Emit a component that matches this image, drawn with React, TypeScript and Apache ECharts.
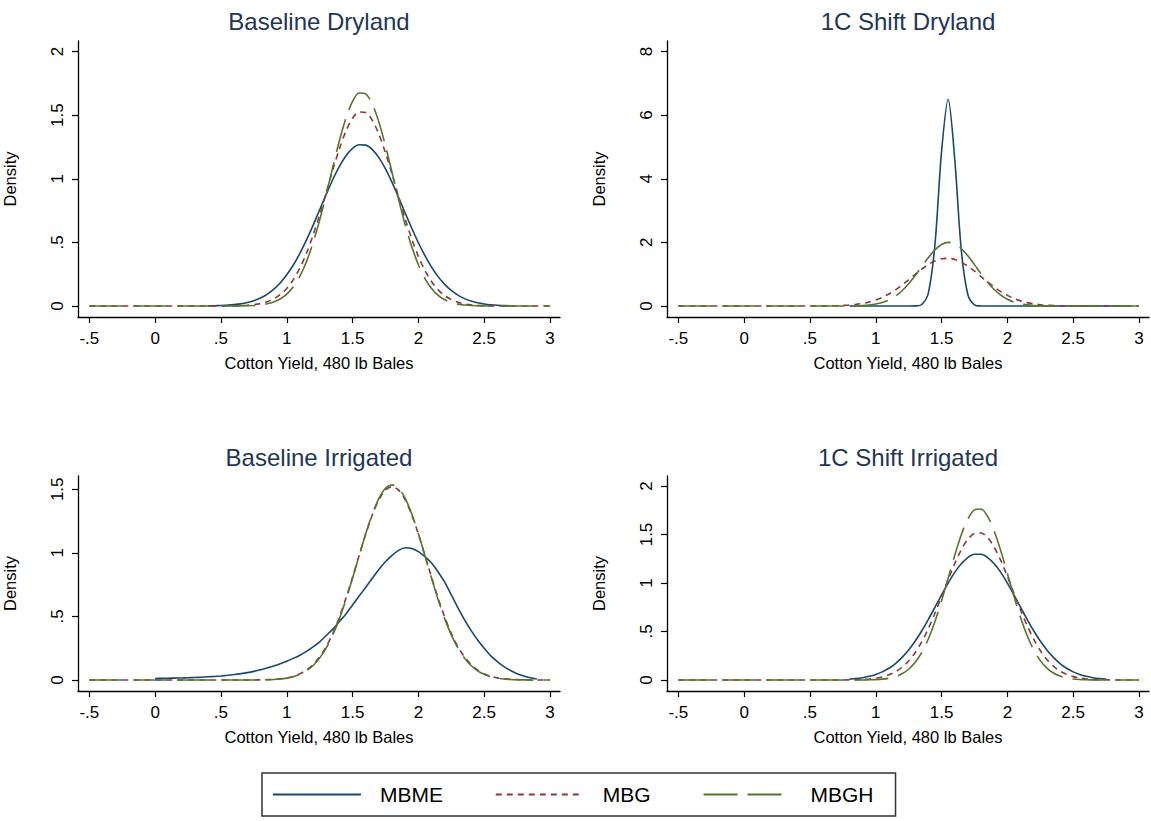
import React, { useEffect, useRef } from "react";
import * as echarts from "echarts";

const N = null;

// shared evaluation grid (Cotton Yield, 480 lb bales)
const X = [
  -0.5, -0.45, -0.4, -0.35, -0.3, -0.25, -0.2, -0.15, -0.1, -0.05,
  0, 0.05, 0.1, 0.15, 0.2, 0.25, 0.3, 0.35, 0.4, 0.45,
  0.5, 0.55, 0.6, 0.65, 0.7, 0.75, 0.8, 0.85, 0.9, 0.95,
  1, 1.05, 1.1, 1.15, 1.2, 1.25, 1.3, 1.35, 1.4, 1.45,
  1.5, 1.55, 1.6, 1.65, 1.7, 1.75, 1.8, 1.85, 1.9, 1.95,
  2, 2.05, 2.1, 2.15, 2.2, 2.25, 2.3, 2.35, 2.4, 2.45,
  2.5, 2.55, 2.6, 2.65, 2.7, 2.75, 2.8, 2.85, 2.9, 2.95,
  3,
];

// ---- Baseline Dryland ----
const BD_MBME = [
  N, N, N, N, N, N, N, N, N, N,
  N, N, N, N, N, N, N, N, 0.001, 0.002,
  0.004, 0.007, 0.011, 0.017, 0.027, 0.042, 0.063, 0.092, 0.131, 0.181,
  0.245, 0.322, 0.414, 0.519, 0.634, 0.756, 0.877, 0.994, 1.097, 1.181,
  1.239, 1.267, 1.264, 1.229, 1.166, 1.078, 0.971, 0.853, 0.731, 0.611,
  0.497, 0.395, 0.306, 0.231, 0.17, 0.122, 0.085, 0.058, 0.039, 0.025,
  0.016, 0.01, 0.006, 0.003, 0.002, N, N, N, N, N,
  N,
];
const BD_MBG = [
  0, 0, 0, 0, 0, 0, 0, 0, 0, 0,
  0, 0, 0, 0, 0, 0, 0, 0, 0, 0,
  0.0003, 0.0007, 0.0015, 0.003, 0.006, 0.011, 0.019, 0.033, 0.055, 0.089,
  0.138, 0.207, 0.299, 0.415, 0.556, 0.717, 0.892, 1.07, 1.236, 1.375,
  1.476, 1.525, 1.52, 1.459, 1.35, 1.204, 1.035, 0.857, 0.684, 0.526,
  0.39, 0.278, 0.192, 0.127, 0.081, 0.05, 0.03, 0.017, 0.009, 0.005,
  0.0025, 0.001, 0.0005, 0, 0, 0, 0, 0, 0, 0,
  0,
];
const BD_MBGH = [
  0, 0, 0, 0, 0, 0, 0, 0, 0, 0,
  0, 0, 0, 0, 0, 0, 0, 0, 0, 0,
  0, 0, 0.0004, 0.001, 0.002, 0.004, 0.009, 0.017, 0.031, 0.055,
  0.093, 0.151, 0.235, 0.35, 0.497, 0.675, 0.878, 1.092, 1.299, 1.478,
  1.608, 1.674, 1.667, 1.587, 1.445, 1.259, 1.049, 0.836, 0.637, 0.465,
  0.324, 0.216, 0.138, 0.084, 0.049, 0.027, 0.015, 0.0075, 0.0036, 0.0017,
  0.0007, 0, 0, 0, 0, 0, 0, 0, 0, 0,
  0,
];

// ---- 1C Shift Dryland ----
const SD_MBME = [
  N, N, N, N, N, N, N, N, N, N,
  N, N, N, N, N, N, N, N, N, N,
  N, N, N, N, N, N, 0, 0, 0, 0,
  0, 0, 0, 0, 0, 0, 0.003, 0.047, 0.412, 1.94,
  4.86, 6.5, 4.62, 1.75, 0.354, 0.038, 0.002, 0, 0, 0,
  0, 0, 0, 0, 0, 0, 0, 0, 0, 0,
  0, 0, 0, 0, 0, 0, 0, 0, 0, N,
  N,
];
const SD_MBG = [
  0, 0, 0, 0, 0, 0, 0, 0, 0, 0,
  0, 0, 0, 0, 0, 0, 0, 0, 0, 0,
  0, 0, 0.003, 0.005, 0.01, 0.018, 0.03, 0.051, 0.081, 0.126,
  0.188, 0.271, 0.378, 0.508, 0.659, 0.824, 0.995, 1.16, 1.305, 1.416,
  1.483, 1.499, 1.462, 1.376, 1.25, 1.096, 0.927, 0.757, 0.596, 0.453,
  0.333, 0.236, 0.161, 0.106, 0.068, 0.041, 0.025, 0.014, 0.008, 0.004,
  0.002, 0.001, 0, 0, 0, 0, 0, 0, 0, 0,
  0,
];
const SD_MBGH = [
  0, 0, 0, 0, 0, 0, 0, 0, 0, 0,
  0, 0, 0, 0, 0, 0, 0, 0, 0, 0,
  0, 0, 0, 0, 0.001, 0.002, 0.004, 0.007, 0.015, 0.032,
  0.061, 0.111, 0.191, 0.311, 0.479, 0.697, 0.957, 1.242, 1.523, 1.765,
  1.933, 2.0, 1.955, 1.805, 1.576, 1.3, 1.013, 0.746, 0.519, 0.341,
  0.212, 0.124, 0.069, 0.036, 0.018, 0.008, 0.004, 0.002, 0, 0,
  0, 0, 0, 0, 0, 0, 0, 0, 0, 0,
  0,
];

// ---- Baseline Irrigated ----
const BI_MBME = [
  N, N, N, N, N, N, N, N, N, N,
  0.012, 0.013, 0.014, 0.015, 0.016, 0.018, 0.02, 0.022, 0.025, 0.028,
  0.032, 0.037, 0.043, 0.05, 0.058, 0.068, 0.08, 0.094, 0.11, 0.128,
  0.148, 0.17, 0.195, 0.225, 0.26, 0.3, 0.35, 0.4, 0.46, 0.52,
  0.59, 0.66, 0.73, 0.8, 0.87, 0.93, 0.98, 1.02, 1.04, 1.035,
  1.01, 0.97, 0.92, 0.85, 0.77, 0.67, 0.57, 0.475, 0.39, 0.315,
  0.25, 0.19, 0.145, 0.105, 0.075, 0.05, 0.032, 0.018, 0.008, N,
  N,
];
const BI_MBG = [
  0, 0, 0, 0, 0, 0, 0, 0, 0, 0,
  0, 0, 0, 0, 0, 0, 0, 0, 0, 0,
  0, 0, 0, 0, 0, 0, 0.0014, 0.0027, 0.005, 0.01,
  0.017, 0.029, 0.049, 0.079, 0.122, 0.182, 0.263, 0.367, 0.495, 0.644,
  0.809, 0.98, 1.148, 1.298, 1.417, 1.494, 1.52, 1.494, 1.417, 1.298,
  1.148, 0.98, 0.809, 0.644, 0.495, 0.367, 0.263, 0.182, 0.122, 0.079,
  0.049, 0.029, 0.017, 0.01, 0.005, 0.003, 0.001, 0, 0, 0,
  0,
];
const BI_MBGH = [
  0, 0, 0, 0, 0, 0, 0, 0, 0, 0,
  0, 0, 0, 0, 0, 0, 0, 0, 0, 0,
  0, 0, 0, 0, 0, 0, 0.001, 0.002, 0.004, 0.008,
  0.015, 0.026, 0.045, 0.072, 0.114, 0.172, 0.252, 0.355, 0.483, 0.633,
  0.801, 0.977, 1.15, 1.305, 1.428, 1.508, 1.535, 1.508, 1.428, 1.305,
  1.15, 0.977, 0.801, 0.633, 0.483, 0.355, 0.252, 0.172, 0.114, 0.072,
  0.045, 0.026, 0.015, 0.008, 0.004, 0.002, 0.001, 0, 0, 0,
  0,
];

// ---- 1C Shift Irrigated ----
const SI_MBME = [
  N, N, N, N, N, N, N, N, N, N,
  N, N, N, N, N, N, N, N, N, N,
  N, N, N, N, N, N, 0.009, 0.015, 0.024, 0.038,
  0.057, 0.084, 0.121, 0.17, 0.233, 0.31, 0.402, 0.508, 0.626, 0.75,
  0.877, 0.999, 1.109, 1.198, 1.262, 1.296, 1.296, 1.262, 1.198, 1.109,
  0.999, 0.877, 0.75, 0.626, 0.508, 0.402, 0.31, 0.233, 0.17, 0.121,
  0.084, 0.057, 0.038, 0.024, 0.015, 0.009, N, N, N, N,
  N,
];
const SI_MBG = [
  0, 0, 0, 0, 0, 0, 0, 0, 0, 0,
  0, 0, 0, 0, 0, 0, 0, 0, 0, 0,
  0, 0, 0, 0, 0, 0, 0.0014, 0.003, 0.005, 0.01,
  0.018, 0.031, 0.053, 0.084, 0.131, 0.196, 0.284, 0.395, 0.531, 0.688,
  0.859, 1.034, 1.2, 1.344, 1.451, 1.51, 1.516, 1.467, 1.369, 1.232,
  1.068, 0.894, 0.721, 0.561, 0.421, 0.304, 0.212, 0.143, 0.092, 0.058,
  0.035, 0.02, 0.011, 0.006, 0.003, 0.002, 0, 0, 0, 0,
  0,
];
const SI_MBGH = [
  0, 0, 0, 0, 0, 0, 0, 0, 0, 0,
  0, 0, 0, 0, 0, 0, 0, 0, 0, 0,
  0, 0, 0, 0, 0, 0, 0, 0, 0, 0.002,
  0.004, 0.009, 0.018, 0.035, 0.064, 0.111, 0.182, 0.285, 0.425, 0.604,
  0.816, 1.05, 1.285, 1.498, 1.661, 1.754, 1.763, 1.686, 1.535, 1.331,
  1.097, 0.862, 0.644, 0.458, 0.31, 0.2, 0.123, 0.072, 0.04, 0.021,
  0.011, 0.005, 0.002, 0.001, 0, 0, 0, 0, 0, 0,
  0,
];

const SERIES_NAMES = ["MBME", "MBG", "MBGH"];
const PANEL_TITLES = ["Baseline Dryland", "1C Shift Dryland", "Baseline Irrigated", "1C Shift Irrigated"];
const X_TICKS = [-0.5, 0, 0.5, 1, 1.5, 2, 2.5, 3];
const Y_TICKS = [
  [0, 0.5, 1, 1.5, 2],
  [0, 2, 4, 6, 8],
  [0, 0.5, 1, 1.5],
  [0, 0.5, 1, 1.5, 2],
];
const PANEL_DATA = [
  [BD_MBME, BD_MBG, BD_MBGH],
  [SD_MBME, SD_MBG, SD_MBGH],
  [BI_MBME, BI_MBG, BI_MBGH],
  [SI_MBME, SI_MBG, SI_MBGH],
];

// layout / style (not data)
const GRIDS = [
  { left: 78, top: 41, width: 482, height: 276 },
  { left: 667, top: 41, width: 482, height: 276 },
  { left: 78, top: 476, width: 482, height: 215 },
  { left: 667, top: 476, width: 482, height: 215 },
];
const Y_RANGE = [
  [-0.0864, 2.0825],
  [-0.3457, 8.33],
  [-0.0865, 1.6046],
  [-0.1134, 2.103],
];
const X_RANGE = [-0.586, 3.076];
const COLORS = ["#1a476f", "#90353b", "#55752f"];
const DASHES: any[] = ["solid", [6, 5], [34, 10]];
const FONT = "'Liberation Sans', Arial, sans-serif";

const fmt = (v: number) => {
  if (v === 0) return "0";
  return String(v).replace(/^(-?)0\./, "$1.");
};

export default function App() {
  const ref = useRef<HTMLDivElement>(null);
  useEffect(() => {
    if (!ref.current) return;
    const chart = echarts.init(ref.current, undefined, { renderer: "svg" });

    const grid = GRIDS.map((g) => ({ ...g, containLabel: false }));
    const xAxis = GRIDS.map((_, i) => ({
      type: "value",
      gridIndex: i,
      min: X_RANGE[0],
      max: X_RANGE[1],
      splitLine: { show: false },
      axisLine: { show: true, onZero: false, lineStyle: { color: "#000", width: 1.3 } },
      axisTick: { show: true, customValues: X_TICKS, length: 6, lineStyle: { color: "#000", width: 1.2 } },
      axisLabel: { customValues: X_TICKS, formatter: fmt, fontSize: 17, color: "#000", margin: 13, fontFamily: FONT },
      name: "Cotton Yield, 480 lb Bales",
      nameLocation: "middle",
      nameGap: 37,
      nameTextStyle: { fontSize: 16.5, color: "#000", fontFamily: FONT },
    }));
    const yAxis = GRIDS.map((_, i) => ({
      type: "value",
      gridIndex: i,
      min: Y_RANGE[i][0],
      max: Y_RANGE[i][1],
      splitLine: { show: false },
      axisLine: { show: true, onZero: false, lineStyle: { color: "#000", width: 1.3 } },
      axisTick: { show: true, customValues: Y_TICKS[i], length: 6, lineStyle: { color: "#000", width: 1.2 } },
      axisLabel: { customValues: Y_TICKS[i], formatter: fmt, fontSize: 17, color: "#000", margin: 12, rotate: 90, fontFamily: FONT },
      name: "Density",
      nameLocation: "middle",
      nameGap: 60,
      nameRotate: 90,
      nameTextStyle: { fontSize: 16.5, color: "#000", fontFamily: FONT },
    }));
    const title = PANEL_TITLES.map((t, i) => ({
      text: t,
      left: GRIDS[i].left + GRIDS[i].width / 2,
      top: i < 2 ? 9 : 445,
      textAlign: "center",
      padding: 0,
      textStyle: { fontSize: 24, fontWeight: "normal", color: "#1f3658", fontFamily: FONT },
    }));
    const series: any[] = [];
    PANEL_DATA.forEach((arrs, p) => {
      arrs.forEach((arr, s) => {
        const data: number[][] = [];
        X.forEach((x, k) => {
          const v = arr[k];
          if (v !== null && v !== undefined) data.push([x, v]);
        });
        series.push({
          type: "line",
          name: SERIES_NAMES[s],
          xAxisIndex: p,
          yAxisIndex: p,
          data,
          symbol: "none",
          showSymbol: false,
          smooth: 0.3,
          lineStyle: { color: COLORS[s], width: 1.6, type: DASHES[s] },
          itemStyle: { color: COLORS[s] },
          emphasis: { disabled: true },
          silent: true,
        });
      });
    });

    chart.setOption({
      animation: false,
      backgroundColor: "#fff",
      textStyle: { fontFamily: FONT },
      title,
      grid,
      xAxis,
      yAxis,
      legend: {
        data: SERIES_NAMES,
        left: 262,
        top: 773,
        orient: "horizontal",
        itemWidth: 88,
        itemHeight: 14,
        itemGap: 52,
        padding: [11, 22, 11, 10],
        borderColor: "#333",
        borderWidth: 1.5,
        selectedMode: false,
        itemStyle: { opacity: 0, borderWidth: 0 },
        lineStyle: { width: 1.8 },
        textStyle: { fontSize: 21, color: "#000", padding: [0, 0, 0, 14], fontFamily: FONT },
      },
      series,
    });
    return () => chart.dispose();
  }, []);
  return <div ref={ref} style={{ position: "absolute", left: 0, top: 0, width: 1151, height: 821 }} />;
}
